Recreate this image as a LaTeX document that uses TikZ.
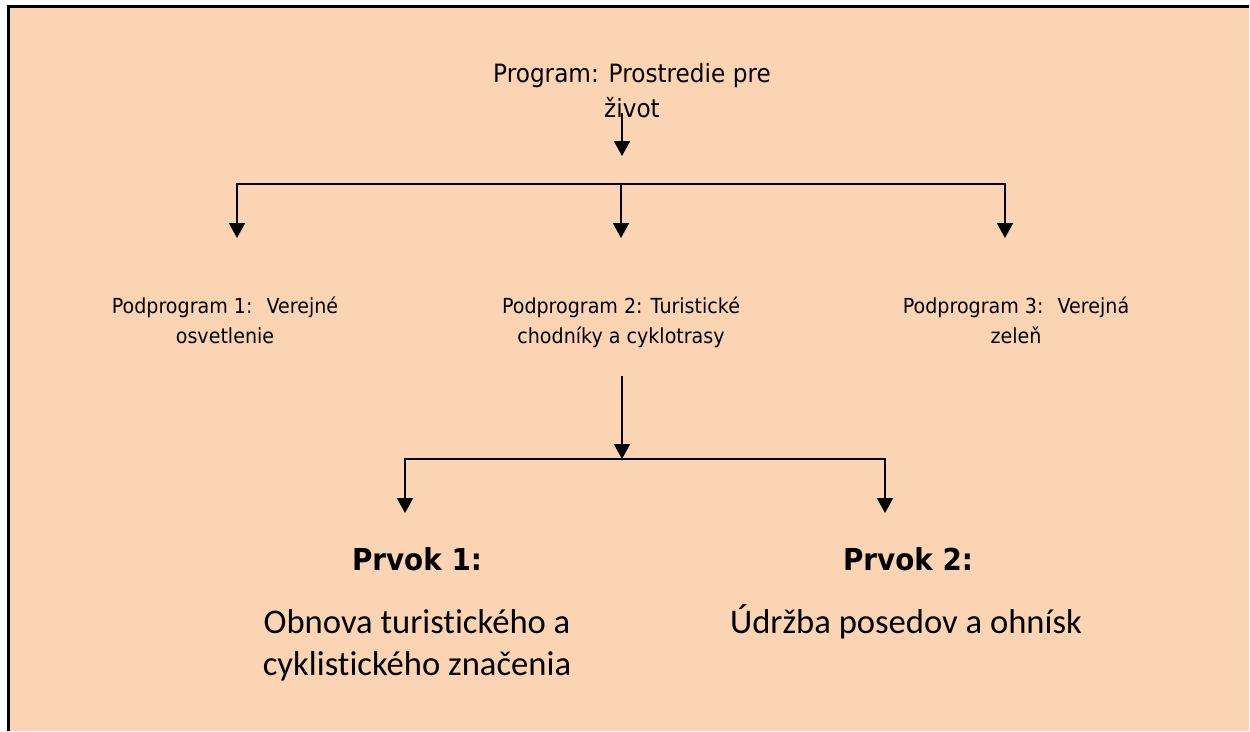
\documentclass[tikz,border=0pt]{standalone}
\usepackage{fontspec}
\setmainfont{DejaVu Sans}[FakeStretch=0.92]
\newfontfamily\calibri{Carlito}[Ligatures=NoCommon]
\usetikzlibrary{arrows.meta}
\definecolor{peach}{RGB}{251,212,180}

\tikzset{
	link/.style={line width=0.04cm,-{Triangle[length=0.3cm,width=0.32cm]}},
	bar/.style={line width=0.04cm,line cap=rect},
	podprog/.style={align=center,inner sep=0pt,font=\fontsize{11.8}{17.07}\selectfont},
	prvokTitle/.style={anchor=base,inner sep=0pt,font=\fontsize{17.2}{20}\selectfont\bfseries},
	prvokText/.style={align=center,inner sep=0pt,font=\calibri\fontsize{19.7}{23.8}\selectfont}
}

\begin{document}
\begin{tikzpicture}[x=0.02cm,y=-0.02cm]
		\useasboundingbox (0,0) rectangle (1250,731);
		%background and frame
		\fill[white] (0,0) rectangle (1250,731);
		\fill[peach] (8,6) rectangle (1249,731);
		\draw[line width=0.06cm] (8.4,731) -- (8.4,6.5) -- (1249,6.5);
		%\node[draw,options] (nodeName) at (x,y) {text};
		\node[align=center,inner sep=0pt,font=\fontsize{14.35}{19.9}\selectfont] (Program) at (632,91) {Program: Prostredie pre\\život};
		\node[podprog] (Sub1) at (225,320) {Podprogram 1: \ Verejné\\osvetlenie};
		\node[podprog] (Sub2) at (621,322.5) {Podprogram 2: Turistické\\chodníky a cyklotrasy};
		\node[podprog] (Sub3) at (1016,320) {Podprogram 3: \ Verejná\\zeleň};
		\node[prvokTitle] (Prvok1) at (417,570) {Prvok 1:};
		\node[prvokTitle] (Prvok2) at (908,570) {Prvok 2:};
		\node[prvokText] (Prvok1Text) at (417,645) {Obnova turistického a\\cyklistického značenia};
		\node[prvokText,anchor=base] (Prvok2Text) at (906,633) {Údržba posedov a ohnísk};
		%forks
		\coordinate (ProgOut) at (622,113);
		\coordinate (ProgTip) at (622,156);
		\coordinate (Fork1L) at (237,184);
		\coordinate (Fork1M) at (621,184);
		\coordinate (Fork1R) at (1005,184);
		\coordinate (SubOut) at (622,376);
		\coordinate (Fork2L) at (405,459);
		\coordinate (Fork2M) at (622,459);
		\coordinate (Fork2R) at (885,459);
		\draw[link] (ProgOut) -- (ProgTip);
		\draw[bar] (Fork1L) -- (Fork1R);
		\draw[link] (Fork1L) -- ++(0,54);
		\draw[link] (Fork1M) -- ++(0,54);
		\draw[link] (Fork1R) -- ++(0,54);
		\draw[link] (SubOut) -- (Fork2M);
		\draw[bar] (Fork2L) -- (Fork2R);
		\draw[link] (Fork2L) -- ++(0,54);
		\draw[link] (Fork2R) -- ++(0,54);
	\end{tikzpicture}
\end{document}
